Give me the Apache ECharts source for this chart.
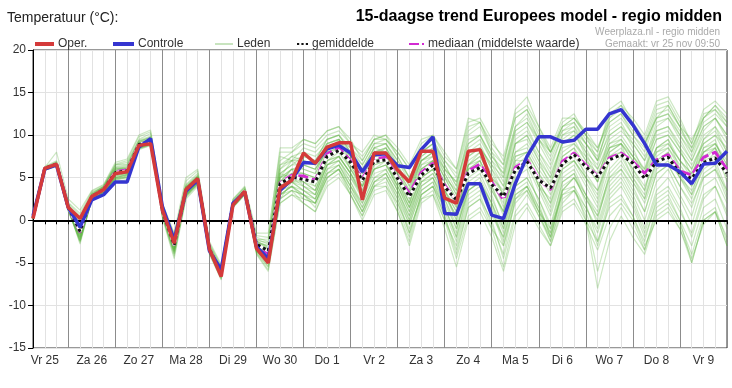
<!DOCTYPE html>
<html><head><meta charset="utf-8">
<script src="https://cdn.jsdelivr.net/npm/echarts@6/dist/echarts.min.js"></script>
<style>html,body{margin:0;padding:0;background:#fff}#c{width:732px;height:388px}</style>
</head><body><div id="c"></div>
<script>
// Day names (one entry per calendar day, 06h Vr 25 .. 00h Za 10, 6-hourly steps)
const days = ['Vr 25','Za 26','Zo 27','Ma 28','Di 29','Wo 30','Do 1','Vr 2','Za 3','Zo 4','Ma 5','Di 6','Wo 7','Do 8','Vr 9','Za 10'];
const yTicks = [-15,-10,-5,0,5,10,15,20];

const oper = [0.2,6.1,6.6,1.5,0.2,2.8,3.6,5.5,5.7,8.8,9.0,1.2,-2.7,3.6,4.9,-3.4,-6.6,1.8,3.4,
  -3.3,-5.0,3.8,4.7,7.9,6.7,8.6,9.1,9.1,2.4,7.9,7.9,5.9,4.5,8.1,8.1,2.6,2.0,8.1,8.3,4.5];

const controle = [0.5,6.0,6.5,1.5,-0.8,2.4,3.0,4.5,4.5,8.6,9.6,1.6,-2.3,3.4,4.7,-3.6,-5.8,2.0,3.3,
  -3.1,-4.5,3.5,4.8,6.8,6.7,8.4,8.8,7.9,5.7,7.7,7.8,6.4,6.2,8.3,9.8,0.8,0.7,4.3,4.3,0.6,
  0.2,4.3,7.5,9.8,9.8,9.2,9.4,10.7,10.7,12.5,13.0,11.2,9.0,6.5,6.5,5.7,4.3,6.6,6.7,8.1];

const gemiddelde = [0.3,6.1,6.6,1.5,-1.3,2.8,3.6,5.6,5.8,8.9,9.3,1.1,-2.9,3.5,4.8,-3.4,-6.2,1.9,3.4,
  -2.8,-3.6,4.3,5.1,4.8,4.5,7.5,8.2,6.8,4.7,6.9,7.1,4.9,2.8,5.3,6.5,3.9,2.4,5.5,6.2,4.2,
  2.8,5.9,6.9,4.7,3.8,6.6,7.7,6.3,5.1,7.1,7.7,6.7,4.9,6.9,7.4,5.5,4.9,6.8,7.3,5.5];

const mediaan = [0.3,6.1,6.6,1.5,-1.4,2.8,3.6,5.7,5.9,8.9,9.3,1.1,-2.9,3.5,4.8,-3.4,-6.1,1.9,3.4,
  -2.9,-3.9,4.4,5.3,5.2,4.7,7.8,8.5,7.0,4.9,7.2,7.4,5.0,3.2,5.6,6.7,4.1,2.3,5.8,6.6,4.5,
  2.4,6.2,7.1,4.8,3.6,6.9,7.9,6.5,5.2,7.3,7.9,6.9,5.5,7.1,7.7,5.8,5.3,7.4,8.0,6.0];

const leden = [
 [0.3,6.2,6.8,1.8,-0.2,3.0,3.9,6.0,6.3,9.2,9.8,1.5,-2.0,4.0,5.2,-3.0,-5.8,2.2,3.6, -2.5,-3.0,5.5,6.5,7.5,7.0,9.5,10.0,8.0,
  6.0,8.5,9.0,7.0,5.0,8.0,9.0,6.0,4.5,9.5,10.0,7.5,6.0,11.0,12.0,9.5,8.0,11.0,11.5,9.0,7.0,11.5,12.5,10.0,8.0,12.0,12.5,10.0,8.0,11.0,12.0,10.0],
 [0.2,5.9,6.4,1.2,-2.5,2.4,3.2,4.8,5.0,8.5,9.0,0.5,-4.0,2.8,4.2,-3.8,-6.8,1.6,3.1, -3.8,-5.5,2.5,3.5,3.0,1.5,5.0,6.0,3.5,
  1.0,4.0,4.5,1.5,-2.0,3.0,4.0,0.5,-3.5,1.5,2.5,0.0,-4.5,1.0,3.0,0.5,-2.5,2.0,3.5,0.5,-6.0,-1.0,1.5,-1.0,-3.5,1.0,2.0,-0.5,-4.0,0.5,1.5,-2.5],
 [0.3,6.0,6.5,1.4,-1.5,2.7,3.5,5.5,5.7,8.8,9.3,1.0,-2.8,3.5,4.8,-3.5,-6.3,1.9,3.3, -3.0,-4.0,4.0,5.0,5.0,4.5,7.5,8.0,6.5,
  4.5,7.0,7.0,5.0,2.5,5.5,6.5,4.0,2.0,5.5,6.0,4.0,2.5,7.0,7.0,5.0,3.5,7.0,8.0,6.0,5.0,7.5,8.0,6.5,5.0,7.0,7.5,5.5,5.0,7.0,7.5,5.5],
 [0.4,6.1,6.6,1.6,-1.0,3.1,4.0,6.5,6.8,9.5,10.2,1.8,-1.8,4.2,5.5,-2.8,-5.5,2.4,3.8, -2.0,-2.5,7.0,8.0,9.0,8.5,10.0,10.5,9.0,
  7.5,9.5,9.5,8.0,6.0,8.5,9.5,7.0,5.5,11.0,11.5,8.0,6.5,13.0,14.5,11.0,8.5,12.0,12.0,10.0,8.0,12.5,13.5,12.0,10.0,14.0,14.5,12.0,9.0,13.0,14.0,12.5],
 [0.2,6.0,6.5,1.3,-2.0,2.6,3.3,5.0,5.3,8.6,9.0,0.8,-3.5,3.0,4.5,-3.6,-6.5,1.7,3.2, -3.5,-4.8,3.0,4.0,2.5,2.0,5.5,6.5,4.0,
  2.0,5.0,5.5,3.0,0.0,4.0,5.0,2.0,-1.0,3.5,4.5,2.0,-1.5,4.0,5.0,2.5,-1.0,4.5,5.5,3.0,0.5,4.5,6.0,4.0,1.0,5.5,6.5,4.0,2.0,5.0,6.0,3.5],
 [0.3,6.3,7.0,2.0,0.5,3.3,3.9,6.2,6.0,9.0,9.5,1.4,-2.3,3.9,5.0,-3.2,-6.0,2.0,3.5, -2.8,-3.5,6.0,7.0,6.0,5.5,8.5,9.0,7.5,
  5.0,8.0,8.5,6.0,3.5,7.0,8.0,5.5,3.0,8.0,9.0,6.0,3.0,9.0,10.0,7.0,4.0,9.5,10.5,7.5,4.5,10.0,11.0,8.5,5.5,10.5,11.0,8.5,5.0,9.5,11.0,8.0],
 [0.3,6.0,6.6,1.5,-1.8,2.9,3.7,5.8,5.9,8.9,9.4,1.1,-3.0,3.4,4.7,-3.3,-6.1,1.8,3.4, -3.2,-4.5,3.5,4.5,4.0,3.0,6.5,7.0,5.0,
  3.0,6.0,6.5,4.0,1.0,4.5,5.5,2.5,-0.5,4.0,5.0,2.0,-2.5,3.0,4.0,1.5,-2.0,3.0,3.5,1.0,-3.0,2.0,3.0,0.5,-2.5,2.5,3.5,1.0,-1.5,3.0,4.0,1.0],
 [0.2,6.1,6.7,1.6,-1.2,2.8,3.5,5.4,5.6,8.7,9.1,1.2,-2.5,3.6,5.0,-3.4,-6.2,1.9,3.3, -2.6,-3.0,5.0,6.0,6.5,6.0,8.0,9.5,7.0,
  5.5,8.5,8.0,5.0,2.0,6.0,7.0,3.5,0.0,5.5,6.5,3.0,-1.0,5.0,6.0,2.0,-2.0,3.5,4.0,0.0,-8.0,-2.5,0.5,-2.0,-4.0,0.5,1.5,-1.0,-5.0,0.0,1.0,-3.0],
 [0.4,6.2,8.0,2.5,1.2,3.5,4.2,6.8,7.2,10.0,10.6,2.0,-1.5,5.0,6.0,-2.5,-5.2,2.5,4.0, -1.5,-1.5,8.0,8.0,9.5,9.0,10.5,11.0,9.0,
  8.0,10.0,9.5,8.0,6.0,9.0,10.0,7.5,6.0,11.5,12.0,9.5,7.0,12.0,13.0,10.5,8.0,10.5,11.0,9.0,7.5,11.0,12.0,10.0,8.5,12.5,13.0,11.0,9.5,12.0,13.0,11.5],
 [0.3,6.0,6.4,1.4,-2.8,2.5,3.4,4.5,4.8,8.3,8.8,0.3,-4.5,2.5,4.0,-4.0,-7.0,1.5,3.0, -4.0,-6.0,2.0,3.0,2.0,1.0,4.5,5.5,3.0,
  0.5,3.5,4.0,2.0,-1.0,2.5,3.5,0.0,-3.0,2.0,3.0,-0.5,-4.0,2.5,4.0,1.0,-1.5,3.5,5.0,3.0,1.0,5.0,6.5,4.5,2.0,6.0,7.0,5.0,3.5,6.5,7.5,5.0],
 [0.3,6.1,6.6,1.5,-1.0,2.9,3.8,6.5,6.6,9.3,9.7,1.3,-2.2,3.8,5.1,-3.1,-5.9,2.1,3.6, -2.4,-3.2,6.5,7.5,8.0,7.5,9.0,9.5,8.5,
  7.0,9.5,10.0,7.5,5.0,8.5,9.5,6.5,4.0,10.0,11.0,8.0,5.0,10.0,11.0,8.0,5.5,9.0,10.0,8.5,6.0,9.5,10.5,9.0,7.0,10.0,10.5,8.5,6.5,9.0,10.0,8.5],
 [0.2,5.9,6.3,1.0,-2.2,2.4,3.3,4.9,5.2,8.4,8.9,0.6,-3.8,3.0,4.4,-3.7,-6.6,1.6,3.1, -3.6,-5.0,3.0,3.5,2.0,1.0,4.0,5.0,3.0,
  0.0,3.0,3.5,1.0,-3.0,2.0,3.0,0.0,-4.5,0.5,1.5,-1.0,-5.5,0.5,2.0,-0.5,-3.0,1.5,2.5,0.0,-2.5,1.5,2.5,0.5,-3.0,0.0,1.0,-1.0,-4.5,-0.5,1.0,-2.0],
 [0.3,6.1,6.7,1.7,-0.8,3.0,3.8,5.9,6.1,9.0,9.4,1.4,-2.4,3.7,5.0,-3.3,-6.1,2.0,3.5, -2.7,-3.8,4.5,6.0,5.5,5.0,8.0,8.5,6.5,
  4.0,7.5,8.0,5.5,3.0,7.0,7.5,5.0,3.5,7.5,8.5,6.5,4.0,8.0,9.0,6.5,4.5,8.5,9.0,7.5,6.0,9.0,9.5,7.5,5.5,8.5,9.5,7.0,5.5,8.5,9.0,7.0],
 [0.3,6.0,6.5,1.5,-1.6,2.7,3.5,5.2,5.5,8.6,9.0,0.9,-3.2,3.2,4.6,-3.5,-6.4,1.8,3.2, -3.4,-4.2,3.5,5.5,4.5,3.5,7.0,7.5,5.5,
  3.5,6.5,7.0,4.5,1.5,5.0,6.0,3.0,0.5,6.0,7.0,4.5,2.0,7.5,8.0,5.5,3.0,6.5,7.0,5.0,3.5,7.0,8.0,6.0,4.0,7.5,8.5,6.0,4.0,7.0,8.5,6.0],
 [0.4,6.2,6.8,1.9,0.0,3.2,4.0,6.3,6.5,9.4,9.9,1.6,-2.0,4.1,5.3,-2.9,-5.7,2.2,3.7, -2.2,-2.8,7.5,7.0,8.5,8.0,9.5,10.0,8.5,
  6.5,9.0,9.0,7.0,4.5,8.0,9.0,7.0,5.0,10.5,11.5,8.5,6.5,12.0,13.0,10.0,8.0,11.5,12.5,10.0,7.0,12.0,13.5,11.0,9.0,13.0,13.5,11.0,8.0,12.0,13.5,12.0],
 [0.2,6.0,6.5,1.3,-2.4,2.6,3.4,4.7,5.0,8.4,8.8,0.4,-4.2,2.7,4.2,-3.9,-6.9,1.5,3.0, -3.9,-5.8,2.0,3.0,2.5,2.0,5.0,6.0,3.0,
  0.5,4.0,4.0,1.0,-2.5,2.5,3.0,-1.0,-5.5,0.0,1.0,-2.0,-6.0,-0.5,1.5,-1.0,-3.0,1.0,2.0,-0.5,-3.5,0.5,2.0,0.0,-3.5,1.5,2.5,0.0,-3.0,1.5,2.5,-1.0],
 [0.3,6.1,6.6,1.6,-1.4,2.8,3.7,5.7,5.9,8.9,9.3,1.2,-2.7,3.5,4.9,-3.4,-6.2,1.9,3.4, -3.0,-3.6,5.0,5.5,5.5,5.0,7.5,8.5,7.0,
  5.0,7.5,7.5,5.5,3.0,6.5,7.5,5.0,2.5,7.0,8.0,5.5,3.0,7.5,8.0,5.5,3.5,7.5,8.5,6.5,4.5,8.5,9.0,7.0,5.0,8.0,9.0,7.0,5.0,8.0,8.5,6.0],
 [0.3,6.0,6.5,1.4,-1.7,2.7,3.5,5.3,5.6,8.7,9.1,0.9,-3.3,3.3,4.7,-3.5,-6.4,1.8,3.2, -3.1,-4.2,4.0,4.5,3.5,3.0,6.5,7.0,5.0,
  2.5,5.5,6.0,3.5,0.5,4.5,5.5,3.0,0.5,5.0,6.0,3.5,1.0,6.0,7.0,4.0,1.0,5.5,6.5,4.0,1.5,6.0,7.5,5.0,2.5,6.5,7.5,5.0,2.5,6.5,8.0,5.5],
 [0.3,6.2,6.7,1.7,-0.6,3.0,3.8,6.1,6.2,9.1,9.6,1.3,-2.1,3.9,5.1,-3.1,-5.9,2.0,3.5, -2.3,-2.2,6.0,7.5,7.0,6.5,9.0,9.5,7.5,
  6.0,8.5,9.0,6.5,4.0,7.5,8.5,6.0,4.5,9.0,10.0,7.0,5.5,11.0,12.5,9.5,7.0,10.5,11.5,9.5,8.0,13.0,14.0,11.5,9.5,13.5,14.0,11.5,9.0,12.5,13.0,11.0],
 [0.2,5.9,6.4,1.2,-2.6,2.5,3.3,5.0,5.4,8.5,8.9,0.7,-3.6,2.9,4.4,-3.7,-6.6,1.7,3.1, -3.7,-4.6,3.0,4.0,3.0,2.5,6.0,7.0,4.5,
  1.5,4.5,5.5,2.5,-0.5,3.5,4.5,1.5,-2.0,3.0,4.0,1.0,-2.0,3.5,4.5,1.5,-1.5,4.0,5.0,2.5,0.0,5.5,7.0,4.5,2.5,7.0,8.0,5.5,3.0,6.0,7.0,3.5],
 [0.3,6.1,6.6,1.5,-1.1,2.9,3.6,5.6,5.8,8.9,9.2,1.2,-2.6,3.6,4.9,-3.4,-6.2,1.9,3.4, -2.9,-3.3,5.5,5.0,6.5,6.0,8.5,9.0,6.0,
  3.5,7.0,7.5,5.0,2.0,6.0,7.0,4.5,1.5,6.5,7.5,5.0,1.5,6.5,7.5,4.0,1.5,6.0,7.0,5.0,2.5,7.5,8.5,6.0,3.5,8.0,8.5,6.5,4.5,8.0,9.0,6.5],
 [0.3,6.0,6.6,1.6,-1.3,2.8,3.6,5.5,5.9,8.8,9.3,1.1,-2.9,3.4,4.8,-3.5,-6.3,1.9,3.3, -3.3,-4.3,4.5,6.0,4.0,3.5,7.0,8.0,6.0,
  4.0,6.0,6.5,4.5,1.5,5.5,6.5,3.0,0.0,6.5,8.0,5.0,3.0,9.0,10.0,7.5,5.0,9.0,10.0,8.0,6.5,10.5,11.5,9.0,7.0,11.5,12.0,10.0,7.5,11.0,12.0,9.5],
 [0.3,6.1,6.6,1.5,-1.5,2.8,3.7,5.8,6.0,9.0,9.4,1.3,-2.5,3.7,5.0,-3.3,-6.1,2.0,3.4, -2.8,-3.7,4.0,4.5,5.0,4.0,7.0,7.5,5.5,
  3.0,6.0,6.5,4.0,1.5,5.0,6.0,3.5,1.0,6.0,6.5,4.0,1.0,6.0,7.0,4.5,2.0,6.5,7.5,5.5,3.5,8.0,9.0,7.5,6.0,9.5,10.0,8.0,6.0,9.0,10.0,7.5],
 [0.2,6.0,6.5,1.4,-2.0,2.6,3.4,5.1,5.4,8.6,9.0,0.8,-3.4,3.1,4.5,-3.6,-6.5,1.7,3.2, -3.4,-4.4,3.5,4.5,3.5,2.5,6.0,6.5,4.0,
  1.5,4.5,5.0,2.5,-1.5,3.0,4.0,1.5,-2.0,3.5,4.5,1.5,-3.0,2.5,3.5,1.0,-2.5,2.5,3.5,1.5,-1.0,3.5,5.0,2.5,-1.0,3.5,5.0,2.5,-0.5,4.0,5.0,2.0],
 [0.3,6.1,6.7,1.7,-0.9,3.0,3.8,6.0,6.2,9.1,9.5,1.3,-2.3,3.8,5.0,-3.2,-6.0,2.0,3.5, -2.6,-3.4,5.0,7.0,7.0,6.5,9.0,9.5,8.0,
  5.5,8.0,8.5,6.5,4.0,7.0,8.0,6.0,3.5,8.5,9.5,7.0,4.5,9.5,10.5,8.0,6.0,10.0,11.0,8.0,5.0,9.0,10.0,8.0,6.0,11.0,12.0,9.5,7.0,10.5,12.0,10.0],
 [0.2,6.0,6.5,1.4,-1.9,2.6,3.4,5.0,5.3,8.6,9.1,0.9,-3.4,3.1,4.6,-3.6,-6.4,1.7,3.2, -3.4,-4.6,2.5,4.5,4.5,3.5,6.5,7.5,5.5,
  2.5,6.0,7.0,3.5,0.0,4.0,5.0,1.5,-1.5,4.5,5.5,2.5,-0.5,5.5,6.5,3.5,0.5,5.0,6.0,3.0,-0.5,4.0,5.5,3.0,0.0,4.5,6.0,3.0,0.5,5.0,6.0,2.5],
 [0.4,6.2,6.9,2.1,0.8,3.4,4.1,6.6,7.0,9.8,10.4,1.9,-1.7,4.6,5.8,-2.7,-5.4,2.4,3.9, -1.8,-2.0,8.5,8.5,9.5,9.0,10.5,11.0,9.5,
  7.0,9.5,10.0,8.5,6.5,9.5,10.0,8.0,6.0,12.0,11.5,9.0,7.5,12.5,13.5,11.0,8.0,11.0,12.0,10.5,8.5,12.0,13.0,11.0,9.0,12.0,13.5,11.0,8.5,11.5,12.5,11.0],
 [0.3,6.0,6.5,1.4,-2.1,2.6,3.4,5.2,5.5,8.7,9.1,0.8,-3.6,3.0,4.5,-3.7,-6.6,1.7,3.1, -3.5,-4.8,3.0,4.0,3.5,2.5,5.5,6.5,4.5,
  2.0,5.0,6.0,3.5,0.5,4.5,5.0,2.5,-1.0,3.5,4.5,2.0,-1.0,4.0,5.0,2.5,-0.5,4.5,5.5,2.0,-2.5,2.5,4.0,1.5,-2.0,2.0,3.0,0.0,-5.0,0.0,1.0,-3.0],
 [0.3,6.1,6.6,1.6,-1.2,2.9,3.7,5.7,5.9,8.9,9.3,1.2,-2.6,3.6,4.9,-3.4,-6.2,1.9,3.4, -3.0,-3.9,4.5,5.5,5.5,5.0,8.0,8.5,6.5,
  4.0,7.0,7.5,5.5,2.5,6.0,7.0,4.5,2.0,6.5,7.5,5.0,3.5,8.0,8.5,6.0,4.0,8.0,9.0,7.0,5.5,8.5,9.0,7.0,5.0,8.5,9.0,7.0,5.5,8.0,9.0,6.5],
 [0.3,6.1,6.6,1.5,-1.0,2.9,3.7,5.8,6.0,9.0,9.4,1.2,-2.4,3.7,5.0,-3.3,-6.1,2.0,3.5, -2.7,-3.4,5.0,6.0,6.0,5.5,8.5,9.0,7.0,
  4.5,7.5,8.5,6.0,3.0,7.0,8.0,5.0,2.5,7.5,8.5,6.5,5.0,10.5,11.5,9.5,7.5,11.0,12.0,10.0,8.5,11.5,12.5,10.5,9.0,12.0,12.5,10.5,8.5,12.0,13.5,11.5],
 [0.2,6.0,6.5,1.3,-2.3,2.5,3.3,4.9,5.1,8.5,9.0,0.7,-3.7,2.9,4.3,-3.7,-6.7,1.6,3.1, -3.6,-5.2,3.5,4.0,3.0,2.0,5.5,6.0,4.0,
  1.0,4.5,5.5,3.0,-0.5,3.5,4.5,1.0,-2.5,2.5,3.5,0.5,-2.0,3.0,4.0,1.0,-1.0,3.0,4.0,1.5,-1.5,3.0,4.5,2.0,-1.5,3.0,4.0,1.5,-2.0,2.5,4.0,0.5],
 [0.3,6.1,6.6,1.5,-1.3,2.8,3.6,5.6,5.8,8.9,9.3,1.1,-2.9,3.5,4.8,-3.4,-6.2,1.9,3.4, -3.1,-4.1,4.5,5.0,4.5,4.0,7.5,8.5,6.0,
  4.0,7.5,8.0,4.5,2.0,6.5,7.0,3.5,1.0,6.5,7.0,3.5,1.0,7.0,8.0,4.0,2.5,7.5,8.5,5.0,3.0,8.0,9.0,5.5,3.5,8.5,9.5,6.0,4.0,8.5,9.5,5.5],
 [0.3,6.2,6.7,1.8,-0.4,3.1,3.9,6.2,6.4,9.3,9.7,1.4,-2.1,3.9,5.2,-3.1,-5.8,2.1,3.6, -2.4,-2.6,6.5,7.0,7.5,7.0,9.5,10.0,8.0,
  6.5,9.0,9.5,7.5,5.0,8.0,9.0,6.5,4.0,9.0,10.0,7.5,5.5,10.5,11.5,9.0,6.5,10.0,10.5,9.0,7.0,10.0,11.0,9.5,7.5,10.5,11.0,9.0,7.0,10.0,11.0,9.0],
 [0.2,5.9,6.4,1.2,-2.4,2.5,3.3,4.8,5.1,8.5,8.9,0.6,-3.9,2.8,4.3,-3.8,-6.7,1.6,3.1, -3.7,-5.4,2.5,3.5,3.0,2.0,5.0,6.0,3.5,
  1.0,4.0,5.0,2.0,-1.5,3.0,4.0,0.5,-4.0,1.5,2.5,-1.0,-3.0,2.0,3.5,0.5,-2.0,3.5,5.0,2.5,0.5,5.0,6.0,3.5,1.0,5.5,6.5,4.0,1.5,5.5,6.5,3.0],
 [0.3,6.1,6.6,1.6,-0.8,3.0,3.8,5.9,6.1,9.1,9.5,1.3,-2.3,3.8,5.0,-3.2,-6.0,2.0,3.5, -2.6,-3.2,5.5,6.5,6.5,6.0,8.5,9.0,7.5,
  5.5,8.0,8.0,6.0,3.5,7.5,8.5,5.5,3.0,8.0,8.5,6.0,4.0,9.0,9.5,7.0,5.0,9.0,9.5,7.0,4.5,8.5,9.5,7.5,5.5,9.5,10.0,8.0,6.0,9.5,10.5,8.0],
 [0.3,6.0,6.5,1.5,-1.6,2.7,3.5,5.4,5.6,8.7,9.1,1.0,-3.1,3.3,4.7,-3.5,-6.3,1.8,3.3, -3.2,-4.4,4.0,5.0,4.0,3.0,6.5,7.5,5.5,
  3.0,6.5,7.0,4.0,1.0,5.0,6.0,3.5,1.5,6.0,7.0,4.0,0.5,6.0,7.0,4.5,2.0,6.0,7.0,4.5,2.0,7.0,8.0,5.0,3.0,7.0,8.0,5.0,3.0,7.5,8.5,4.5]
];

// 6-hourly category axis: step i is 06h of Vr 25 + 6*i hours
const steps = 60;
const categories = [];
for (let i = 0; i < steps; i++) {
  const h = 6 + 6 * i;
  categories.push(days[Math.floor(h / 24)] + '|' + String(h % 24).padStart(2, '0'));
}

const FONT = 'Liberation Sans, Arial, Helvetica, sans-serif';
const series = [];
leden.forEach(m => series.push({
  name: 'Leden', type: 'line', data: m, symbol: 'none', silent: true, z: 2,
  lineStyle: {color: 'rgba(88,180,58,0.30)', width: 1.2}, itemStyle: {color: '#c5e3bb'}
}));
series.push({name: 'mediaan (middelste waarde)', type: 'line', data: mediaan, symbol: 'none', z: 3,
  lineStyle: {color: '#d22ad2', width: 3, type: [10, 4]}, itemStyle: {color: '#d22ad2'}});
series.push({name: 'gem-onder', type: 'line', data: gemiddelde, symbol: 'none', z: 4, silent: true,
  lineStyle: {color: '#ffffff', width: 3}, itemStyle: {color: '#fff'}});
series.push({name: 'gemiddelde', type: 'line', data: gemiddelde, symbol: 'none', z: 5,
  lineStyle: {color: '#111', width: 3, type: [3, 3]}, itemStyle: {color: '#111'},
  markLine: {silent: true, symbol: 'none', label: {show: false}, animation: false,
    lineStyle: {color: '#000', width: 2, type: 'solid'}, data: [{yAxis: 0}]}});
series.push({name: 'Controle', type: 'line', data: controle, symbol: 'none', z: 6,
  lineStyle: {color: '#3535d0', width: 3.5}, itemStyle: {color: '#3535d0'}});
series.push({name: 'Oper.', type: 'line', data: oper, symbol: 'none', z: 7,
  lineStyle: {color: '#d43a3a', width: 3.5}, itemStyle: {color: '#d43a3a'}});

function lg(left, name, icon, color, w, h) {
  return {left: left, top: 33, itemWidth: w, itemHeight: h, itemGap: 0, selectedMode: false,
    textStyle: {fontSize: 12, color: '#333', fontFamily: FONT, padding: [0, 0, 0, -1]},
    data: [{name: name, icon: icon, itemStyle: {color: color, borderWidth: 0}, lineStyle: {width: 0}}]};
}

const chart = echarts.init(document.getElementById('c'), null, {renderer: 'canvas'});
chart.setOption({
  animation: false,
  backgroundColor: '#fff',
  textStyle: {fontFamily: FONT},
  title: [
    {text: 'Temperatuur (°C):', left: 2, top: 6, textStyle: {fontSize: 14, fontWeight: 'normal', color: '#222', fontFamily: FONT}},
    {text: '15-daagse trend Europees model - regio midden', right: 5, top: 4, textStyle: {fontSize: 16, fontWeight: 'bold', color: '#000', fontFamily: FONT}},
    {text: 'Weerplaza.nl - regio midden', right: 7, top: 22, textStyle: {fontSize: 10, fontWeight: 'normal', color: '#aaa', fontFamily: FONT}},
    {text: 'Gemaakt: vr 25 nov 09:50', right: 7, top: 34, textStyle: {fontSize: 10, fontWeight: 'normal', color: '#aaa', fontFamily: FONT}}
  ],
  legend: [
    lg(30, 'Oper.', 'rect', '#d43a3a', 19, 4),
    lg(108, 'Controle', 'rect', '#3535d0', 21, 4),
    lg(210, 'Leden', 'rect', '#c8e4bf', 18, 2),
    lg(292, 'gemiddelde', 'path://M0,0h2v2h-2zM4,0h2v2h-2zM8,0h2v2h-2z', '#111', 11, 3),
    lg(404, 'mediaan (middelste waarde)', 'path://M0,0h10v2h-10zM13,0h2v2h-2z', '#d22ad2', 15, 3)
  ],
  grid: {left: 33, right: 5, top: 50, bottom: 40, show: true, borderColor: '#333', borderWidth: 1, backgroundColor: 'transparent'},
  xAxis: {
    type: 'category', data: categories, boundaryGap: false,
    axisLine: {show: true, lineStyle: {color: '#000', width: 1}},
    axisTick: {show: true, interval: 0, length: 4, lineStyle: {color: '#000'}},
    axisLabel: {interval: (i) => i % 4 === 1, formatter: (v) => v.split('|')[0], color: '#333', fontSize: 12, margin: 7, fontFamily: FONT},
    splitLine: {show: true, interval: 0, lineStyle: {color: ['#e2e2e2', '#e2e2e2', '#e2e2e2', '#8c8c8c'], width: 1}}
  },
  yAxis: {
    type: 'value', min: yTicks[0], max: yTicks[yTicks.length - 1], interval: 5,
    axisLine: {show: true, lineStyle: {color: '#000', width: 1}},
    axisTick: {show: true, length: 5, lineStyle: {color: '#000'}},
    axisLabel: {color: '#333', fontSize: 12, margin: 7, fontFamily: FONT},
    splitLine: {show: true, lineStyle: {color: '#e2e2e2', width: 1}}
  },
  series: series
});
</script></body></html>
